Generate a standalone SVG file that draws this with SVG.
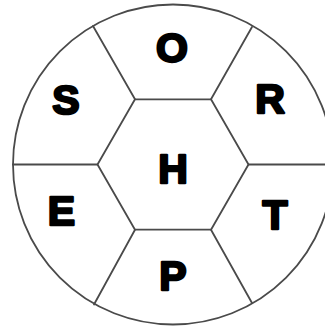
<svg xmlns="http://www.w3.org/2000/svg" width="325" height="327" viewBox="0 0 325 327">
<style>
.ln{fill:none;stroke:#4a4a4a;stroke-width:1.8;stroke-linecap:round;stroke-linejoin:round}
.lt{font-family:"Liberation Sans",Arial,sans-serif;font-weight:bold;font-size:41px;fill:#000;stroke:#000;stroke-width:2.4;stroke-linejoin:round;text-anchor:middle}
</style>
<rect width="325" height="327" fill="#fff"/>
<g id="connectors">
<circle class="ln" cx="173" cy="164.5" r="160"/>
<polygon class="ln" points="135,99.3 211,99.3 248.5,164.5 211,229.7 135,229.7 97.5,164.5"/>
<line class="ln" x1="135" y1="99.3" x2="93" y2="26"/>
<line class="ln" x1="211" y1="99.3" x2="252" y2="27"/>
<line class="ln" x1="248.5" y1="164.5" x2="333" y2="164.5"/>
<line class="ln" x1="211" y1="229.7" x2="252" y2="303"/>
<line class="ln" x1="135" y1="229.7" x2="94" y2="304.5"/>
<line class="ln" x1="97.5" y1="164.5" x2="13" y2="164.5"/>
</g>
<g id="node-H"><text class="lt" x="173" y="183">H</text></g>
<g id="node-O"><text class="lt" x="172" y="62">O</text></g>
<g id="node-R"><text class="lt" x="270" y="113">R</text></g>
<g id="node-T"><text class="lt" x="275" y="229">T</text></g>
<g id="node-P"><text class="lt" x="173" y="290">P</text></g>
<g id="node-E"><text class="lt" x="61.5" y="225">E</text></g>
<g id="node-S"><text class="lt" x="66" y="114">S</text></g>
</svg>
